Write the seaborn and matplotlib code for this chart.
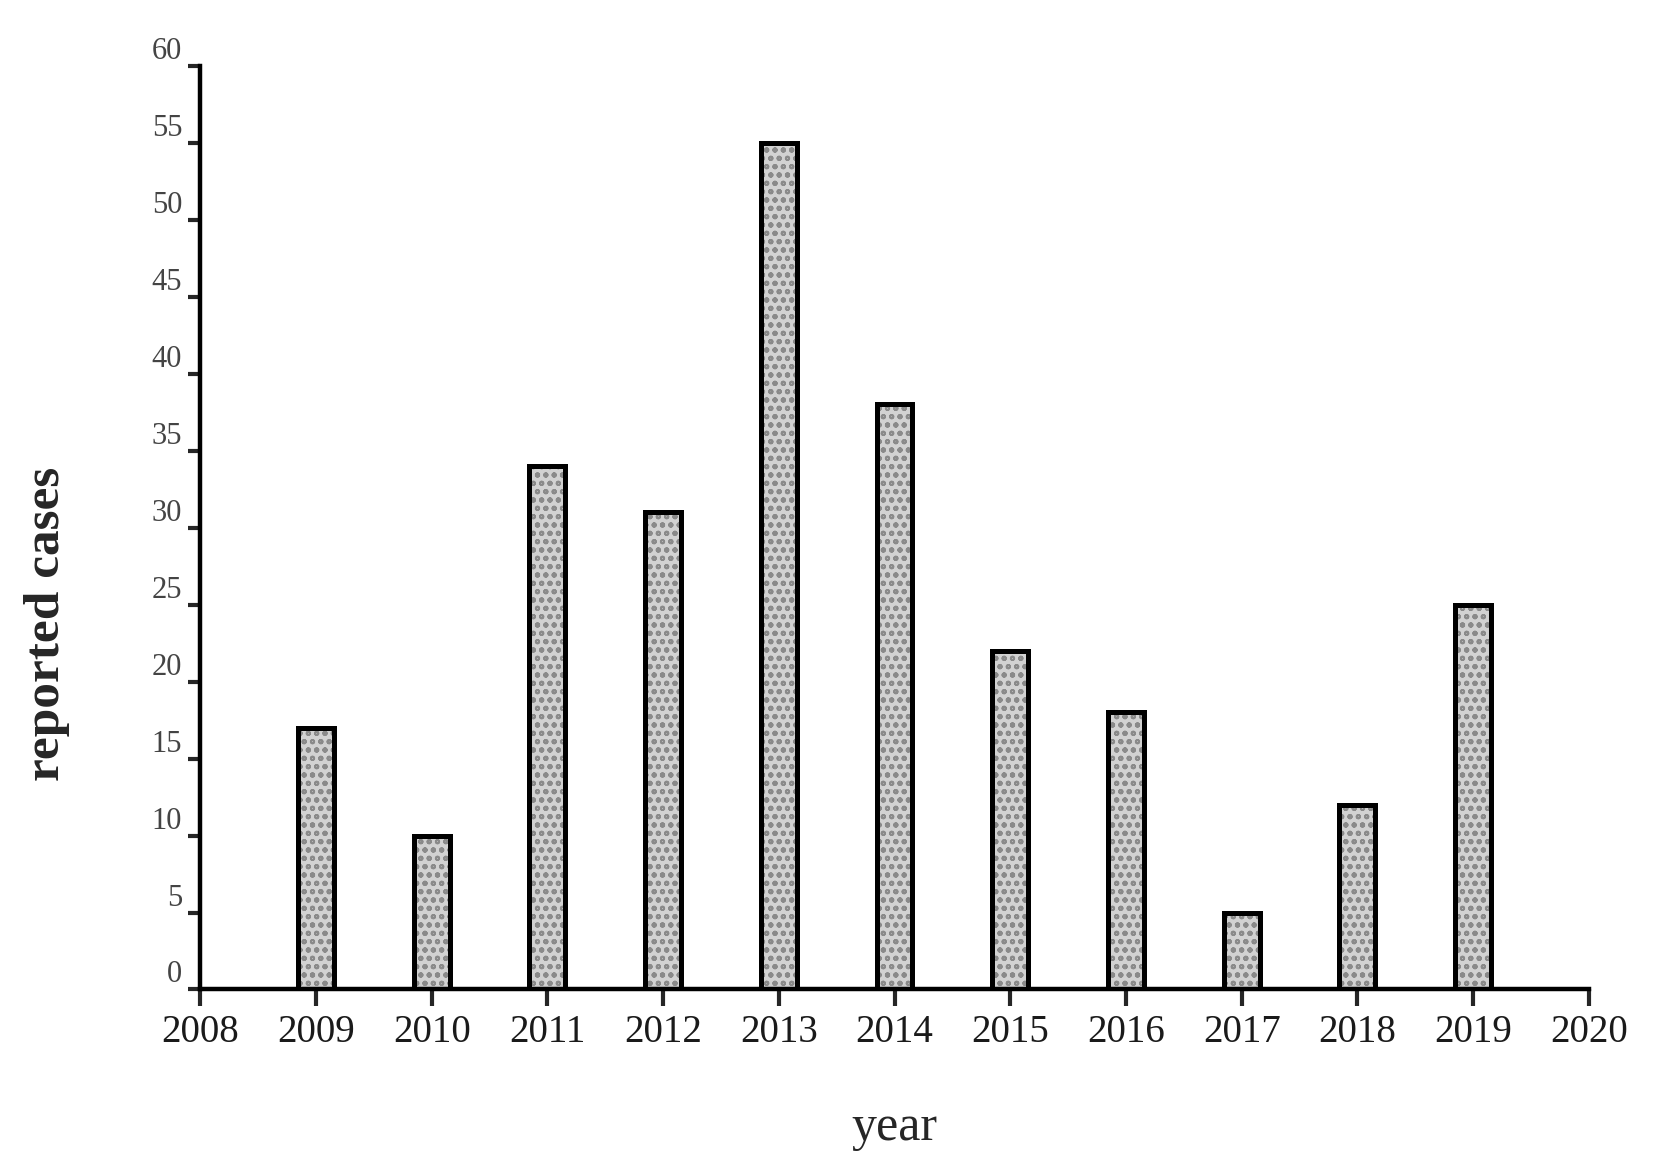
import pandas as pd
import matplotlib.pyplot as plt
import seaborn as sns

# dados
years = [2009, 2010, 2011, 2012, 2013, 2014, 2015, 2016, 2017, 2018, 2019]
cases = [17, 10, 34, 31, 55, 38, 22, 18, 5, 12, 25]
x_ticks = list(range(2008, 2021))
y_ticks = list(range(0, 61, 5))

df = pd.DataFrame({'year': years, 'cases': cases})

sns.set_theme(style="white")
plt.rcParams['font.family'] = ['Liberation Serif', 'DejaVu Serif']
plt.rcParams['hatch.linewidth'] = 1.4

fig = plt.figure(figsize=(16.55, 11.71), dpi=100)
ax = fig.add_axes([0.121, 0.155, 0.839, 0.789])

# camada de preenchimento pontilhado
sns.barplot(data=df, x='year', y='cases', native_scale=True, width=0.31,
            color='#d2d2d2', saturation=1, edgecolor='#8a8a8a', linewidth=0,
            hatch='oo', ax=ax)
# contorno preto
sns.barplot(data=df, x='year', y='cases', native_scale=True, width=0.31,
            fill=False, edgecolor='black', linewidth=3.6, ax=ax)

ax.set_xlim(2008, 2020)
ax.set_ylim(0, 60)
ax.set_xticks(x_ticks)
ax.set_yticks(y_ticks)
ax.set_xticklabels([str(t) for t in x_ticks], fontsize=28, color='#1a1a1a')
ax.set_yticklabels([str(t) for t in y_ticks], fontsize=22, color='#444444')
for lab in ax.get_yticklabels():
    lab.set_verticalalignment('bottom')

ax.tick_params(axis='x', direction='out', length=12, width=3, pad=6, bottom=True)
ax.tick_params(axis='y', direction='out', length=9, width=3, pad=4, left=True)

for side in ['top', 'right']:
    ax.spines[side].set_visible(False)
for side in ['left', 'bottom']:
    ax.spines[side].set_linewidth(3.2)
    ax.spines[side].set_color('black')

ax.set_xlabel('year', fontsize=36, labelpad=38)
ax.set_ylabel('reported cases', fontsize=37, fontweight='bold')
ax.yaxis.set_label_coords(-0.094, 0.396)

plt.savefig('out.png', dpi=100)
